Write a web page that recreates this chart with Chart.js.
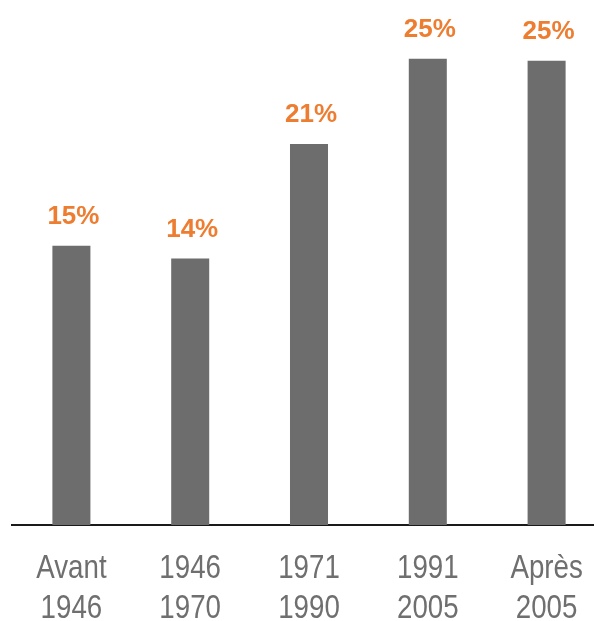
<!DOCTYPE html>
<html>
<head>
<meta charset="utf-8">
<script src="https://cdn.jsdelivr.net/npm/chart.js@4/dist/chart.umd.min.js"></script>
<style>
  html, body { margin: 0; padding: 0; background: #fff; overflow: hidden; }
  #wrap { width: 606px; height: 621px; }
</style>
</head>
<body>
<div id="wrap"><canvas id="periodChart" width="606" height="621"></canvas></div>
<script>
const periods = [['Avant', '1946'], ['1946', '1970'], ['1971', '1990'], ['1991', '2005'], ['Après', '2005']];
const shares = [15.1, 14.4, 20.6, 25.2, 25.1];

const barGrey = '#6d6d6d';
const labelOrange = '#ed7d31';
const tickGrey = '#6f6f6f';

// percentage printed above each bar
const valueLabels = {
  id: 'valueLabels',
  afterDatasetsDraw(chart) {
    const ctx = chart.ctx;
    const meta = chart.getDatasetMeta(0);
    ctx.save();
    ctx.font = 'bold 26px "Liberation Sans", Arial, sans-serif';
    ctx.fillStyle = labelOrange;
    ctx.textAlign = 'center';
    ctx.textBaseline = 'alphabetic';
    meta.data.forEach((bar, i) => {
      ctx.fillText(Math.round(shares[i]) + '%', bar.x + 2, bar.y - 22);
    });
    ctx.restore();
  }
};

// category names in a condensed face (no narrow font installed, so squeeze Liberation Sans)
const narrowTicks = {
  id: 'narrowTicks',
  afterDraw(chart) {
    const ctx = chart.ctx;
    const xScale = chart.scales.x;
    const squeeze = 0.84;
    ctx.save();
    ctx.font = '33px "Liberation Sans", Arial, sans-serif';
    ctx.fillStyle = tickGrey;
    ctx.textAlign = 'center';
    ctx.textBaseline = 'alphabetic';
    periods.forEach((lines, i) => {
      const x = xScale.getPixelForTick(i);
      lines.forEach((line, j) => {
        ctx.save();
        ctx.translate(x, xScale.top + 53 + j * 40);
        ctx.scale(squeeze, 1);
        ctx.fillText(line, 0, 0);
        ctx.restore();
      });
    });
    ctx.restore();
  }
};

const periodChart = document.getElementById('periodChart');

new Chart(periodChart, {
  type: 'bar',
  data: {
    labels: periods,
    datasets: [{
      label: '',
      data: shares,
      backgroundColor: barGrey,
      barPercentage: 0.32,
      categoryPercentage: 1
    }]
  },
  options: {
    responsive: false,
    animation: false,
    layout: {
      padding: { left: 12, right: 0, top: 7, bottom: 0 }
    },
    plugins: {
      legend: { display: false },
      tooltip: { enabled: false }
    },
    scales: {
      x: {
        grid: { display: false, drawTicks: false },
        border: { display: true, color: '#1a1a1a', width: 2 },
        ticks: { display: false },
        afterFit(scale) { scale.height = 96; }
      },
      y: {
        display: false,
        min: 0,
        max: 28
      }
    }
  },
  plugins: [valueLabels, narrowTicks]
});
</script>
</body>
</html>
